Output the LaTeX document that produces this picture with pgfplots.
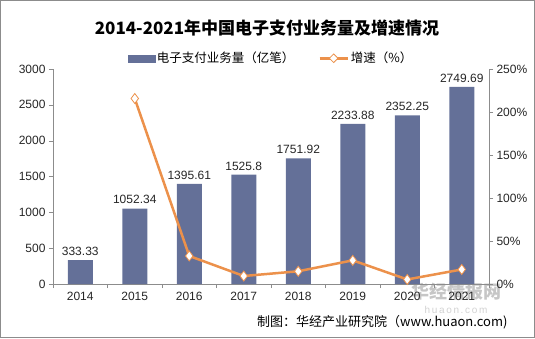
\documentclass[border=0pt]{standalone}
\usepackage{pgfplots}
\pgfplotsset{compat=1.18}
\usepackage{pgfplotstable}
\usetikzlibrary{shapes.geometric}
\usepackage{fontspec}
\setmainfont{Liberation Sans}
\newfontfamily\cjk{Noto Sans CJK SC}
\definecolor{barcol}{RGB}{100,112,152}
\definecolor{linecol}{RGB}{236,145,75}
\definecolor{axcol}{RGB}{140,140,140}
\pgfplotstableread{
x v lab
0 333.33 333.33
1 1052.34 1052.34
2 1395.61 1395.61
3 1525.8 1525.8
4 1751.92 1751.92
5 2233.88 2233.88
6 2352.25 2352.25
7 2749.69 2749.69
}\bars
\pgfplotstableread{
x g
1 215.7
2 32.6
3 9.3
4 14.8
5 27.5
6 5.3
7 16.9
}\growth
\begin{document}
\begin{tikzpicture}[x=1pt,y=1pt]
\useasboundingbox (0,0) rectangle (535,338);
\draw[axcol, line width=1pt] (0.5,0.5) rectangle (534.5,337.5);
\node[font=\cjk\bfseries\fontsize{17}{20}\selectfont] at (267,310) {2014-2021年中国电子支付业务量及增速情况};
\node[text=gray!45, font=\cjk\bfseries\fontsize{18}{20}\selectfont] at (456,46) {华经情报网};
\node[text=gray!35, font=\fontsize{10}{12}\selectfont] at (456,28) {h\,u\,a\,o\,n\,.\,c\,o\,m};
\begin{axis}[
  at={(53pt,54pt)}, anchor=south west,
  scale only axis, width=436pt, height=215pt,
  xmin=-0.5, xmax=7.5, ymin=0, ymax=3000,
  axis y line*=left, axis x line*=bottom,
  axis line style={axcol, line width=0.8pt},
  xtick={0,...,7},
  xticklabels={2014,2015,2016,2017,2018,2019,2020,2021},
  major x tick style={draw=none},
  minor xtick={-0.5,0.5,...,7.5},
  minor x tick style={axcol},
  minor tick length=4pt,
  ytick={0,500,...,3000},
  y tick style={axcol},
  major tick length=4pt,
  tick align=outside,
  ticklabel style={font=\fontsize{12}{14}\selectfont, text=black!85},
  /pgf/number format/1000 sep={},
  /pgf/number format/assume math mode=true,
  xticklabel style={yshift=-1pt},
]
\addplot[ybar, bar width=25pt, fill=barcol, draw=none,
  nodes near coords, point meta=explicit symbolic,
  every node near coord/.append style={font=\fontsize{12}{14}\selectfont, text=black!85, yshift=1pt}]
  table[x=x, y=v, meta=lab] {\bars};
\end{axis}
\begin{axis}[
  at={(53pt,54pt)}, anchor=south west,
  scale only axis, width=436pt, height=215pt,
  xmin=-0.5, xmax=7.5, ymin=0, ymax=250,
  axis y line*=right, axis x line=none,
  axis line style={axcol, line width=0.8pt},
  ytick={0,50,...,250},
  yticklabel={\pgfmathprintnumber{\tick}\%},
  y tick style={axcol},
  major tick length=4pt,
  tick align=outside,
  ticklabel style={font=\fontsize{12}{14}\selectfont, text=black!85},
  /pgf/number format/assume math mode=true,
  legend style={at={(0.5,1.05)}, anchor=center, draw=none, fill=none,
    font=\cjk\fontsize{12.5}{14}\selectfont, legend columns=2,
    /tikz/every even column/.append style={column sep=22pt}},
]
\addlegendimage{legend image code/.code={\fill[barcol] (0pt,-3.5pt) rectangle (27pt,3.5pt);}}
\addlegendentry{电子支付业务量（亿笔）}
\addplot[linecol, line width=2.5pt, mark=diamond*, mark size=5pt,
  mark options={fill=white, draw=linecol, line width=0.8pt},
  legend image code/.code={\draw[linecol, line width=2.5pt] (0pt,0pt) -- (28pt,0pt);
    \node[diamond, draw=linecol, fill=white, line width=0.8pt, inner sep=0pt, minimum size=9pt] at (14pt,0pt) {};}]
  table[x=x, y=g] {\growth};
\addlegendentry{增速（\%）}
\end{axis}
\node[anchor=east, font=\cjk\fontsize{13}{15}\selectfont] at (511,16) {制图：华经产业研究院（www.huaon.com)};
\end{tikzpicture}
\end{document}
